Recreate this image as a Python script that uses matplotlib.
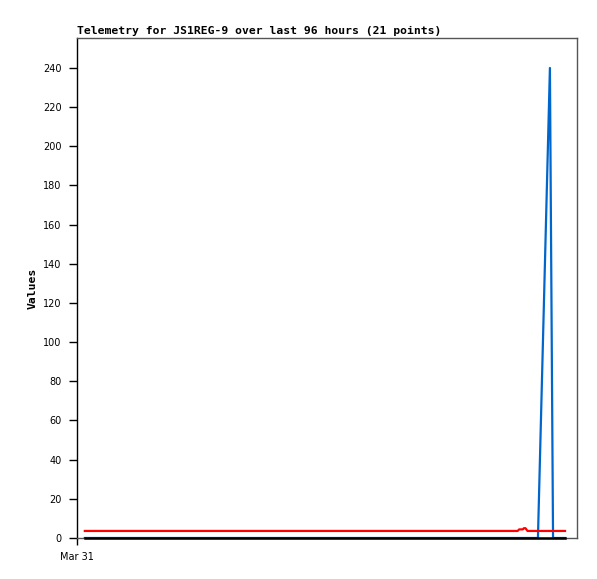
import matplotlib
matplotlib.use('Agg')
import matplotlib.pyplot as plt

# hours since Mar 31 00:00
hours = [1.5, 84.6, 84.9, 85.6, 85.8, 86.1, 86.5, 88.5, 90.8, 91.4, 93.7]
blue_vals = [0, 0, 0, 0, 0, 0, 0, 0, 240, 0, 0]
red_vals = [3.6, 3.6, 4.4, 4.4, 5.0, 5.0, 3.6, 3.6, 3.6, 3.6, 3.6]
black_vals = [0, 0, 0, 0, 0, 0, 0, 0, 0, 0, 0]
yticks = [0, 20, 40, 60, 80, 100, 120, 140, 160, 180, 200, 220, 240]
xticks = [0]
xlabels = ['Mar 31']

fig = plt.figure(figsize=(5.97, 5.79), dpi=100)
ax = fig.add_axes([77/597, 41/579, 500/597, 500/579])

ax.plot(hours, blue_vals, color='#0066cc', lw=1.6)
ax.plot(hours, red_vals, color='#ff0000', lw=1.6)
ax.plot(hours, black_vals, color='black', lw=1.8, clip_on=False, zorder=3)

ax.set_xlim(0, 96)
ax.set_ylim(0, 255.3)
ax.set_yticks(yticks)
ax.set_xticks(xticks)
ax.set_xticklabels(xlabels)

ax.tick_params(axis='y', direction='out', length=6, width=1, pad=5, labelsize=7)
ax.tick_params(axis='x', direction='out', length=5, width=1, pad=5, labelsize=7)
for lab in ax.get_xticklabels() + ax.get_yticklabels():
    lab.set_family('DejaVu Sans')

ax.spines['left'].set_color('black')
ax.spines['left'].set_linewidth(1)
for s in ['top', 'right', 'bottom']:
    ax.spines[s].set_color('#555555')
    ax.spines[s].set_linewidth(1)

ax.set_title('Telemetry for JS1REG-9 over last 96 hours (21 points)', loc='left',
             fontsize=8.2, fontweight='bold', family='DejaVu Sans Mono', pad=3)
ax.set_ylabel('Values', fontsize=8.2, fontweight='bold', family='DejaVu Sans Mono', labelpad=4)

fig.savefig('out.png', dpi=100, facecolor='white')
